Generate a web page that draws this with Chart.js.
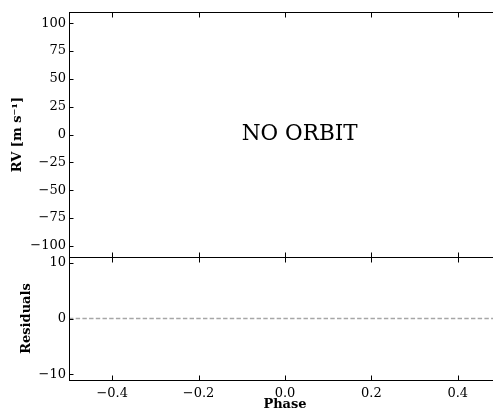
<!DOCTYPE html>
<html>
<head>
<meta charset="utf-8">
<script src="https://cdn.jsdelivr.net/npm/chart.js@4"></script>
<style>
  html, body { margin: 0; padding: 0; background: #fff; overflow: hidden; width: 493px; height: 412px; }
  canvas { position: absolute; left: 0; }
  #rv { top: 0; }
  #res { top: 237px; }
</style>
</head>
<body>
<canvas id="rv" width="520" height="277"></canvas>
<canvas id="res" width="520" height="175"></canvas>
<script>
// data
const rvPhase = [];
const rvValues = [];
const residualPhase = [-0.5, 0.5];
const residualZero = [0, 0];
const rvTicks = [-100, -75, -50, -25, 0, 25, 50, 75, 100];
const resTicks = [-10, 0, 10];
const phaseTicks = [-0.4, -0.2, 0.0, 0.2, 0.4];
const noOrbitText = "NO ORBIT";

const serif = "'DejaVu Serif', serif";
const minus = s => String(s).replace("-", "\u2212");

// spines + inward ticks, matplotlib style
function framePlugin(yTicks, showText) {
  return {
    id: "frame",
    afterDraw(chart) {
      const { ctx, chartArea: a, scales } = chart;
      ctx.save();
      ctx.strokeStyle = "#000";
      ctx.lineWidth = 1;
      ctx.beginPath();
      ctx.moveTo(a.left + 0.5, a.top + 0.5);
      ctx.lineTo(a.left + 0.5, a.bottom + 0.5);
      ctx.moveTo(a.left, a.top + 0.5);
      ctx.lineTo(a.right, a.top + 0.5);
      ctx.moveTo(a.left, a.bottom + 0.5);
      ctx.lineTo(a.right, a.bottom + 0.5);
      yTicks.forEach(v => {
        const y = Math.round(scales.y.getPixelForValue(v)) + 0.5;
        ctx.moveTo(a.left, y);
        ctx.lineTo(a.left + 4.5, y);
      });
      phaseTicks.forEach(v => {
        const x = Math.round(scales.x.getPixelForValue(v)) + 0.5;
        ctx.moveTo(x, a.top);
        ctx.lineTo(x, a.top + 5.5);
        ctx.moveTo(x, a.bottom + 1);
        ctx.lineTo(x, a.bottom - 4.5);
      });
      ctx.stroke();
      if (showText) {
        ctx.fillStyle = "#000";
        ctx.font = "21.5px " + serif;
        ctx.textBaseline = "middle";
        ctx.textAlign = "left";
        ctx.fillText(noOrbitText, scales.x.getPixelForValue(-0.1), scales.y.getPixelForValue(0));
      }
      ctx.restore();
    }
  };
}

const fixTicks = list => scale => { scale.ticks = list.map(v => ({ value: v })); };

new Chart(document.getElementById("rv"), {
  type: "scatter",
  data: {
    datasets: [{
      data: rvPhase.map((p, i) => ({ x: p, y: rvValues[i] })),
      backgroundColor: "#000",
      pointRadius: 3
    }]
  },
  options: {
    responsive: false,
    animation: false,
    layout: { padding: { top: 12, right: 19, bottom: 20, left: 0 } },
    plugins: { legend: { display: false }, tooltip: { enabled: false } },
    scales: {
      x: { type: "linear", min: -0.5, max: 0.5, display: false, afterBuildTicks: fixTicks(phaseTicks) },
      y: {
        type: "linear", min: -110, max: 110,
        afterBuildTicks: fixTicks(rvTicks),
        afterFit: s => { s.width = 69; },
        grid: { display: false, drawTicks: false },
        border: { display: false },
        ticks: { color: "#000", padding: 3, font: { family: serif, size: 13 }, callback: v => minus(v) },
        title: {
          display: true, text: "RV [m s\u207B\u00B9]", color: "#000",
          font: { family: serif, size: 13, weight: "bold" }, padding: { top: 10, bottom: 0 }
        }
      }
    }
  },
  plugins: [framePlugin(rvTicks, true)]
});

new Chart(document.getElementById("res"), {
  type: "line",
  data: {
    datasets: [{
      data: residualPhase.map((p, i) => ({ x: p, y: residualZero[i] })),
      borderColor: "#a6a6a6",
      borderWidth: 1.5,
      borderDash: [4.4, 2.3],
      pointRadius: 0,
      fill: false
    }]
  },
  options: {
    responsive: false,
    animation: false,
    layout: { padding: { top: 20, right: 19, bottom: 0, left: 0 } },
    plugins: { legend: { display: false }, tooltip: { enabled: false } },
    scales: {
      x: {
        type: "linear", min: -0.5, max: 0.5,
        afterBuildTicks: fixTicks(phaseTicks),
        afterFit: s => { s.height = 32; },
        grid: { display: false, drawTicks: false },
        border: { display: false },
        ticks: { color: "#000", padding: 6, maxRotation: 0, font: { family: serif, size: 13 }, callback: v => minus(v.toFixed(1)) },
        title: {
          display: true, text: "Phase", color: "#000",
          font: { family: serif, size: 13, weight: "bold" }, padding: { top: 0, bottom: 0 }
        }
      },
      y: {
        type: "linear", min: -11, max: 11,
        afterBuildTicks: fixTicks(resTicks),
        afterFit: s => { s.width = 69; },
        grid: { display: false, drawTicks: false },
        border: { display: false },
        ticks: { color: "#000", padding: 3, font: { family: serif, size: 13 }, callback: v => minus(v) },
        title: {
          display: true, text: "Residuals", color: "#000",
          font: { family: serif, size: 13, weight: "bold" }, padding: { top: 19, bottom: 0 }
        }
      }
    }
  },
  plugins: [framePlugin(resTicks, false)]
});
</script>
</body>
</html>
